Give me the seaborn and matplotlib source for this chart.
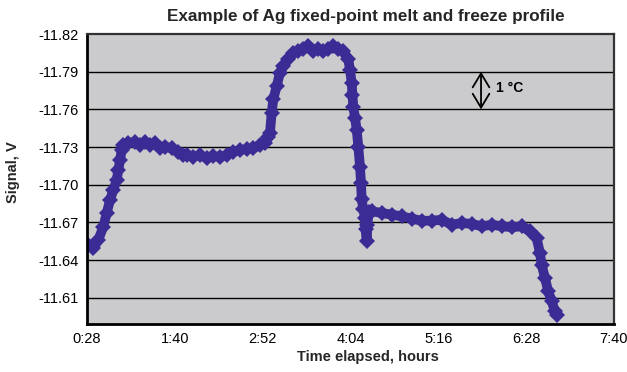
import numpy as np
import pandas as pd
import matplotlib
matplotlib.use("Agg")
import matplotlib.pyplot as plt
import seaborn as sns

# ---- data (time in minutes elapsed, signal in volts) ----
minutes = [29.1, 33.2, 37.3, 41.4, 44.1, 46.9, 49.6, 52.3, 53.7, 55.1, 56.4,
           57.8, 61.9, 67.3, 71.4, 75.5, 79.6, 83.7, 87.8, 91.9, 97.4, 102.8,
           106.9, 109.7, 115.1, 120.6, 126.1, 131.5, 137.0, 142.5, 147.9, 153.4,
           158.9, 164.3, 169.8, 173.9, 176.6,
           178.0, 179.4, 180.7, 183.5, 186.2, 188.9, 193.0, 197.1,
           201.2, 205.3, 209.4, 213.5, 217.6, 221.7, 225.8, 229.9, 234.0, 238.1, 242.2,
           243.6, 245.0, 245.6, 246.3, 247.7, 249.1, 250.4, 251.8, 252.6, 253.2,
           254.5, 255.9, 256.3, 257.3, 257.9, 258.8,
           261.4, 269.6, 277.8, 286.0, 294.2, 302.4, 310.6, 318.8, 327.0, 335.2,
           343.4, 351.6, 359.8, 368.0, 376.2, 384.3, 391.1, 396.6,
           399.3, 400.7, 403.4, 406.1, 408.9, 411.6, 413.0]
signal = [-11.6521, -11.6495, -11.6561, -11.6667, -11.6773, -11.6879, -11.6959,
          -11.7038, -11.7118, -11.7197, -11.7277,
          -11.7317, -11.7330, -11.7343, -11.7317, -11.7343, -11.7317, -11.7330,
          -11.7290, -11.7303, -11.7290, -11.7263, -11.7237, -11.7237, -11.7224,
          -11.7237, -11.7211, -11.7229, -11.7219, -11.7237, -11.7263, -11.7277,
          -11.7283, -11.7290, -11.7317, -11.7330, -11.7383,
          -11.7415, -11.7574, -11.7680, -11.7786, -11.7892, -11.7945, -11.7999, -11.8051,
          -11.8065, -11.8083, -11.8105, -11.8065, -11.8083, -11.8065, -11.8083,
          -11.8105, -11.8078, -11.8065, -11.7999,
          -11.7914, -11.7808, -11.7715, -11.7622, -11.7532, -11.7436, -11.7303,
          -11.7144, -11.7017, -11.6885, -11.6805, -11.6736, -11.6646, -11.6553,
          -11.6680, -11.6784,
          -11.6789, -11.6776, -11.6762, -11.6749, -11.6730, -11.6714, -11.6714,
          -11.6722, -11.6682, -11.6696, -11.6688, -11.6670, -11.6682, -11.6670,
          -11.6662, -11.6670, -11.6630, -11.6577,
          -11.6457, -11.6364, -11.6258, -11.6152, -11.6073, -11.5993, -11.5966]

x_tick_minutes = [28, 100, 172, 244, 316, 388, 460]
x_tick_labels = ["0:28", "1:40", "2:52", "4:04", "5:16", "6:28", "7:40"]
y_ticks = [-11.82, -11.79, -11.76, -11.73, -11.70, -11.67, -11.64, -11.61]

title = "Example of Ag fixed-point melt and freeze profile"
x_label = "Time elapsed, hours"
y_label = "Signal, V"
note = "1 °C"

# ---- style ----
sns.set_style("white")
plt.rcParams["font.family"] = ["Liberation Sans", "DejaVu Sans"]

marker_color = "#3a2c94"
bg_color = "#cbcbcd"

fig = plt.figure(figsize=(6.27, 3.72), dpi=100)
ax = fig.add_axes([87 / 627, 1 - 324 / 372, (614 - 87) / 627, (324 - 34) / 372])
ax.set_facecolor(bg_color)

df = pd.DataFrame({"minutes": minutes, "signal": signal})
sns.lineplot(data=df, x="minutes", y="signal", sort=False, estimator=None,
             color=marker_color, lw=7.0, marker="D", markersize=8,
             markeredgewidth=0, ax=ax)

ax.set_xlim(28, 460)
ax.set_ylim(-11.5892, -11.82)

ax.set_xticks(x_tick_minutes)
ax.set_xticklabels(x_tick_labels)
ax.set_yticks(y_ticks)
ax.set_yticklabels([f"{v:.2f}" for v in y_ticks])

for v in y_ticks[1:]:
    ax.axhline(v, color="black", lw=1.0, zorder=0.5)

ax.tick_params(axis="x", direction="in", length=4, width=1, pad=6,
               labelsize=10.5, colors="black")
ax.tick_params(axis="y", direction="out", length=4, width=1, pad=2,
               labelsize=10.5, colors="black")

for side in ["left", "bottom"]:
    ax.spines[side].set_color("black")
    ax.spines[side].set_linewidth(2.0)
for side in ["top", "right"]:
    ax.spines[side].set_color("#333333")
    ax.spines[side].set_linewidth(1.6)
    ax.spines[side].set_visible(True)

ax.set_xlabel("")
ax.set_ylabel("")

# annotation: 1 °C span
ax.annotate("", xy=(351, -11.79), xytext=(351, -11.76),
            arrowprops=dict(arrowstyle="<->,head_length=0.5,head_width=0.3",
                            color="black", lw=1.3,
                            mutation_scale=20, shrinkA=0, shrinkB=0))
ax.text(363.3, -11.777, note, ha="left", va="center", fontsize=10,
        fontweight="bold", color="black")

fig.text(366 / 627, 1 - 16 / 372, title, ha="center", va="center",
         fontsize=12.3, fontweight="bold")
fig.text(368 / 627, 1 - 357 / 372, x_label, ha="center", va="center",
         fontsize=10.5, fontweight="bold")
fig.text(12.5 / 627, 1 - 172 / 372, y_label, ha="center", va="center",
         rotation=90, fontsize=10.5, fontweight="bold")

fig.savefig("out.png", dpi=100, facecolor="white")
